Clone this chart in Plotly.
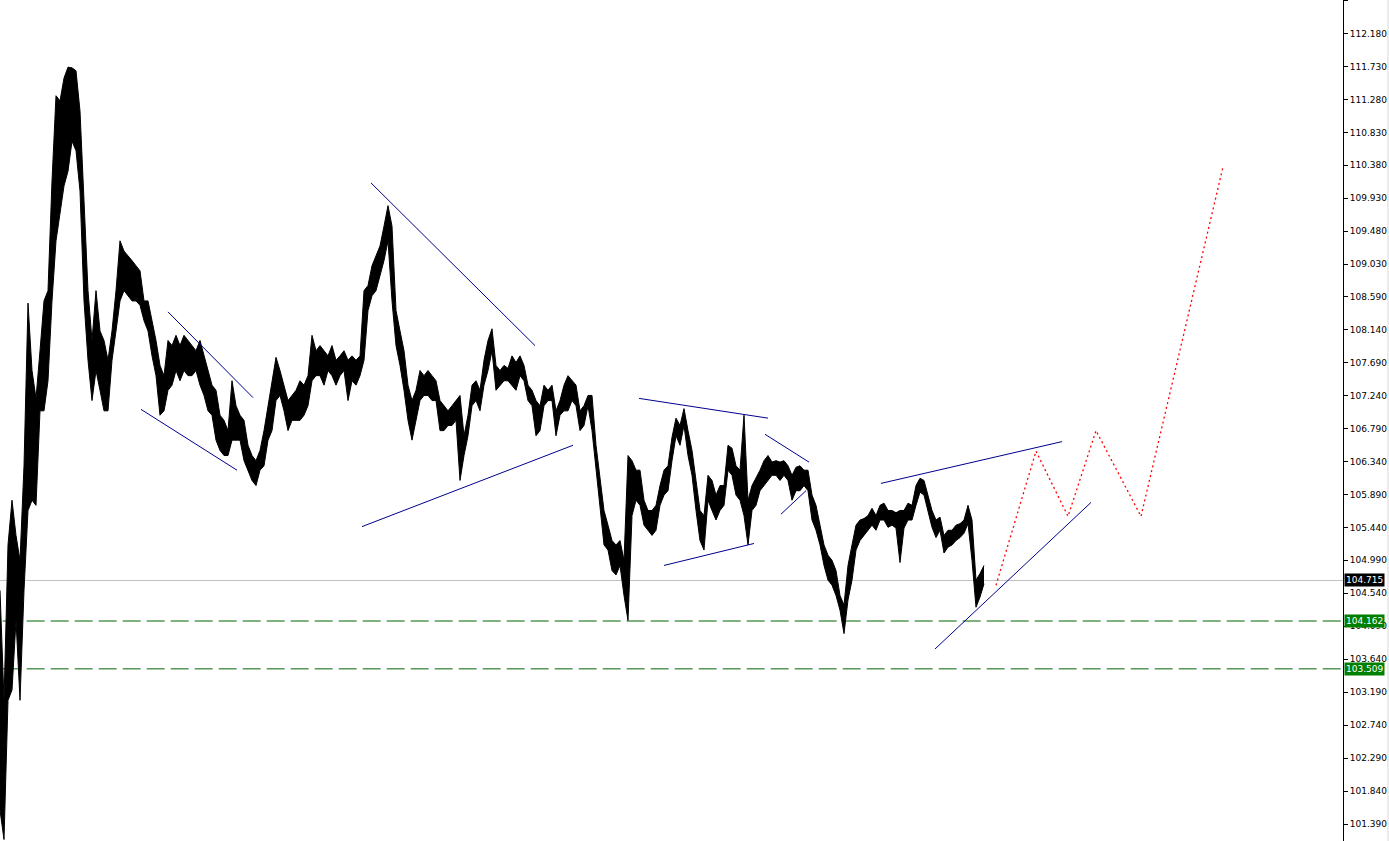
import plotly.graph_objects as go

# ---------------- data ----------------
bar_step = 4
bar_index = list(range(0, 985, bar_step))

bar_high = [
    104.58, 103.08, 105.20, 105.81, 105.33, 104.99, 106.28, 108.50, 107.58, 107.20,
    107.85, 108.53, 108.67, 110.17, 111.33, 111.26, 111.57, 111.72, 111.71, 111.67,
    111.12, 109.90, 108.67, 107.99, 108.67, 108.12, 107.99, 107.72, 108.12, 108.67,
    109.35, 109.21, 109.15, 109.08, 109.01, 108.94, 108.53, 108.53, 108.26, 107.99,
    107.65, 107.51, 107.99, 107.92, 108.06, 107.92, 108.06, 107.99, 107.92, 107.85,
    107.99, 107.78, 107.58, 107.38, 107.31, 106.97, 106.90, 106.76, 107.44, 107.10,
    106.97, 106.90, 106.56, 106.42, 106.35, 106.49, 106.76, 107.10, 107.38, 107.76,
    107.58, 107.38, 107.17, 107.24, 107.31, 107.44, 107.38, 107.51, 108.06, 107.85,
    107.92, 107.85, 107.78, 107.92, 107.72, 107.78, 107.85, 107.72, 107.78, 107.72,
    107.78, 108.67, 108.74, 109.01, 109.15, 109.28, 109.55, 109.83, 109.55, 108.40,
    108.12, 107.85, 107.38, 107.17, 107.31, 107.58, 107.51, 107.58, 107.51, 107.44,
    107.17, 107.10, 107.03, 107.10, 107.17, 107.24, 106.69, 106.97, 107.38, 107.44,
    107.31, 107.72, 107.99, 108.15, 107.65, 107.58, 107.65, 107.61, 107.78, 107.69,
    107.78, 107.65, 107.38, 107.31, 107.17, 107.10, 107.38, 107.31, 107.38, 107.03,
    107.17, 107.38, 107.51, 107.44, 107.38, 107.03, 107.10, 107.24, 107.24, 106.56,
    106.15, 105.67, 105.47, 105.26, 105.20, 105.26, 104.99, 106.42, 106.35, 106.22,
    106.22, 105.81, 105.67, 105.67, 105.74, 106.01, 106.22, 106.28, 106.67, 106.93,
    106.83, 107.06, 106.76, 106.49, 106.08, 105.67, 105.60, 106.15, 106.08, 105.88,
    106.01, 106.01, 106.56, 106.52, 106.28, 106.22, 106.97, 105.81, 106.01, 106.11,
    106.22, 106.35, 106.42, 106.33, 106.35, 106.33, 106.35, 106.28, 106.15, 106.26,
    106.28, 106.22, 106.22, 105.88, 105.74, 105.47, 105.20, 105.06, 104.99, 104.85,
    104.51, 104.38, 104.92, 105.20, 105.47, 105.54, 105.56, 105.60, 105.70, 105.60,
    105.74, 105.77, 105.67, 105.67, 105.64, 105.67, 105.67, 105.77, 105.74, 106.01,
    106.11, 106.08, 105.88, 105.67, 105.54, 105.58, 105.33, 105.40, 105.40, 105.47,
    105.49, 105.54, 105.74, 105.54, 104.72, 104.81, 104.92,
]

bar_low = [
    101.58, 101.18, 103.08, 103.22, 104.17, 103.08, 104.58, 105.67, 105.81, 105.74,
    107.03, 107.03, 107.44, 108.53, 109.35, 109.76, 110.10, 110.30, 110.71, 110.58,
    110.03, 108.53, 107.72, 107.17, 107.58, 107.31, 107.03, 107.03, 107.72, 108.12,
    108.53, 108.67, 108.60, 108.53, 108.53, 108.47, 108.26, 108.12, 107.78, 107.51,
    106.97, 107.03, 107.31, 107.38, 107.58, 107.44, 107.58, 107.51, 107.51, 107.58,
    107.38, 107.24, 107.03, 106.97, 106.63, 106.49, 106.42, 106.42, 106.63, 106.63,
    106.63, 106.35, 106.22, 106.08, 106.01, 106.22, 106.28, 106.63, 106.76, 107.17,
    107.24, 107.03, 106.76, 106.90, 106.90, 106.90, 106.97, 107.10, 107.44, 107.51,
    107.51, 107.38, 107.58, 107.51, 107.38, 107.51, 107.58, 107.17, 107.44, 107.38,
    107.51, 107.72, 108.40, 108.60, 108.67, 108.87, 109.08, 109.35, 108.53, 107.92,
    107.65, 107.31, 106.90, 106.63, 106.90, 107.17, 107.24, 107.24, 107.17, 107.17,
    106.76, 106.76, 106.83, 106.83, 106.90, 106.08, 106.42, 106.69, 107.10, 107.17,
    107.03, 107.38, 107.58, 107.85, 107.31, 107.38, 107.44, 107.44, 107.38, 107.31,
    107.51, 107.44, 107.17, 107.10, 106.69, 106.76, 107.10, 107.17, 107.17, 106.69,
    106.97, 107.03, 107.03, 107.17, 107.10, 106.76, 106.83, 107.10, 106.76, 106.22,
    105.74, 105.20, 105.13, 104.85, 104.79, 104.92, 104.51, 104.17, 105.60, 105.81,
    105.74, 105.47, 105.40, 105.33, 105.40, 105.74, 105.88, 105.94, 106.35, 106.69,
    106.56, 106.83, 106.42, 106.15, 105.67, 105.26, 105.13, 105.81, 105.67, 105.54,
    105.67, 105.74, 106.22, 106.15, 105.88, 105.81, 105.60, 105.20, 105.67, 105.74,
    105.94, 106.01, 106.08, 106.15, 106.15, 106.08, 106.15, 106.08, 105.81, 105.94,
    105.94, 106.01, 105.94, 105.54, 105.40, 105.20, 104.92, 104.72, 104.65, 104.51,
    104.31, 103.99, 104.45, 104.72, 105.13, 105.26, 105.33, 105.40, 105.47, 105.40,
    105.54, 105.54, 105.44, 105.47, 105.43, 104.96, 105.43, 105.54, 105.54, 105.74,
    105.92, 105.88, 105.67, 105.44, 105.30, 105.40, 105.09, 105.17, 105.20, 105.26,
    105.30, 105.36, 105.49, 104.99, 104.35, 104.49, 104.67,
]

current_price = 104.715
level_prices = [104.162, 103.509]

trend_x0 = [168, 141, 371, 362, 639, 664, 765, 781, 881, 935]
trend_p0 = [108.38, 107.05, 110.14, 105.45, 107.20, 104.92, 106.71, 105.62, 106.04, 103.78]
trend_x1 = [253, 237, 535, 573, 768, 754, 809, 806, 1062, 1091]
trend_p1 = [107.21, 106.22, 107.92, 106.56, 106.93, 105.22, 106.33, 105.94, 106.61, 105.78]

forecast_x = [996, 1036, 1068, 1096, 1141, 1223]
forecast_p = [104.65, 106.48, 105.59, 106.76, 105.59, 110.36]

tick_vals = [112.630, 112.180, 111.730, 111.280, 110.830, 110.380, 109.930, 109.480,
             109.030, 108.590, 108.140, 107.690, 107.240, 106.790, 106.340, 105.890,
             105.440, 104.990, 104.540, 104.090, 103.640, 103.190, 102.740, 102.290,
             101.840, 101.390]
tick_text = ["%.3f" % v for v in tick_vals]

# ---------------- figure ----------------
fig = go.Figure()

fig.add_trace(go.Scatter(x=bar_index, y=bar_high, mode="lines",
                         line=dict(color="black", width=1), hoverinfo="skip",
                         showlegend=False))
fig.add_trace(go.Scatter(x=bar_index, y=bar_low, mode="lines",
                         line=dict(color="black", width=1), fill="tonexty",
                         fillcolor="black", hoverinfo="skip", showlegend=False))

tx, ty = [], []
for a, b, c, d in zip(trend_x0, trend_p0, trend_x1, trend_p1):
    tx += [a, c, None]
    ty += [b, d, None]
fig.add_trace(go.Scatter(x=tx, y=ty, mode="lines",
                         line=dict(color="#00008C", width=1), hoverinfo="skip",
                         showlegend=False))

fig.add_trace(go.Scatter(x=forecast_x, y=forecast_p, mode="lines",
                         line=dict(color="#FF0000", width=1.3, dash="2px,3px"),
                         hoverinfo="skip", showlegend=False))

shapes = [dict(type="line", xref="paper", yref="y", x0=0, x1=1,
               y0=current_price, y1=current_price, layer="below",
               line=dict(color="#C0C0C0", width=1))]
for lv in level_prices:
    shapes.append(dict(type="line", xref="paper", yref="y", x0=0.002, x1=1,
                       y0=lv, y1=lv, layer="below",
                       line=dict(color="#006400", width=1, dash="18px,6px")))
shapes.append(dict(type="line", xref="paper", yref="paper", x0=1.0335, x1=1.0335,
                   y0=0, y1=1, line=dict(color="#D8D8D8", width=1)))

annotations = [dict(xref="paper", yref="y", x=1, y=current_price, xanchor="left",
                    yanchor="middle", xshift=1, showarrow=False,
                    text="%.3f" % current_price, bgcolor="black",
                    font=dict(color="white", size=9, family="DejaVu Sans"),
                    borderpad=1)]
for lv in level_prices:
    annotations.append(dict(xref="paper", yref="y", x=1, y=lv, xanchor="left",
                            yanchor="middle", xshift=1, showarrow=False,
                            text="%.3f" % lv, bgcolor="#008000",
                            font=dict(color="white", size=9, family="DejaVu Sans"),
                            borderpad=1))

fig.update_layout(
    width=1389, height=841,
    margin=dict(l=0, r=46, t=0, b=0, pad=0),
    paper_bgcolor="white", plot_bgcolor="white",
    showlegend=False,
    shapes=shapes, annotations=annotations,
    xaxis=dict(range=[0, 1343], visible=False, fixedrange=True),
    yaxis=dict(range=[101.160, 112.636], side="right", showgrid=False,
               zeroline=False, showline=True, linecolor="black", linewidth=1,
               ticks="outside", ticklen=4, tickcolor="black", tickwidth=1,
               tickvals=tick_vals, ticktext=tick_text,
               tickfont=dict(family="DejaVu Sans", size=9, color="black"),
               fixedrange=True),
)

fig.write_html("out.html", config={"displayModeBar": False},
               post_script="document.body.style.margin='0';")
